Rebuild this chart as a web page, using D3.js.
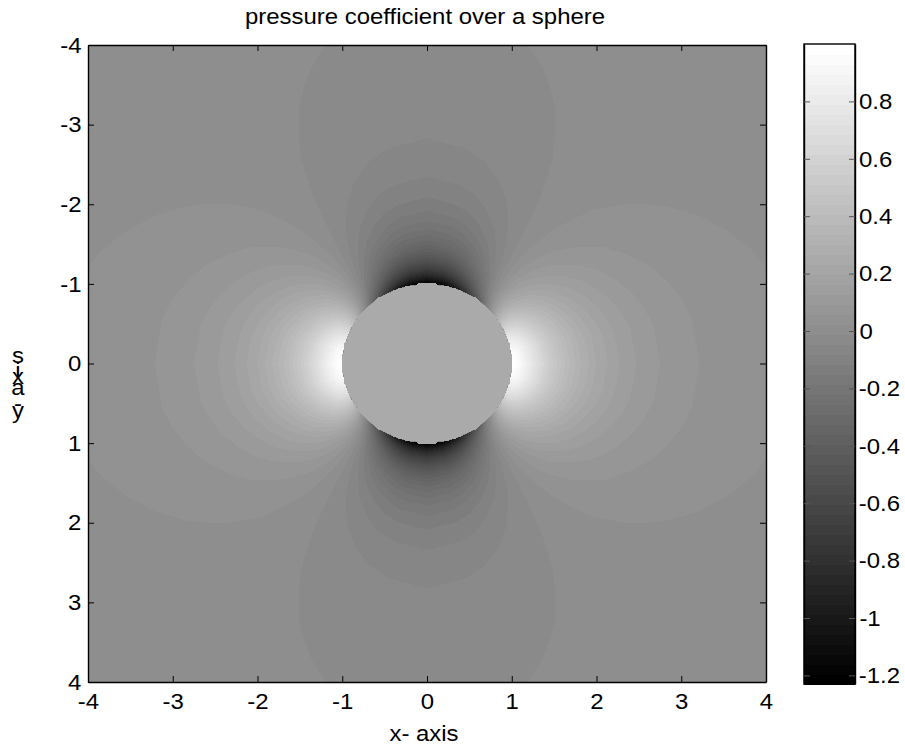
<!DOCTYPE html>
<html><head><meta charset="utf-8">
<script src="https://cdn.jsdelivr.net/npm/d3@7"></script>
<style>html,body{margin:0;background:#fff}svg{display:block}
text{font-family:"Liberation Sans",Arial,sans-serif;fill:#000;transform-box:fill-box;transform-origin:center;transform:scaleX(1.06)}</style>
</head><body><svg id="c" width="905" height="748"></svg>
<script>
const titleText = "pressure coefficient over a sphere";
const xLabelText = "x- axis";
const yLabelLetters = ["s","i","x","a","-","y"];
const axisTicks = [-4,-3,-2,-1,0,1,2,3,4];
const barTicks = [0.8,0.6,0.4,0.2,0,-0.2,-0.4,-0.6,-0.8,-1,-1.2];
const colorLimits = [-1.23,1];
const levelCount = 64;
const interiorValue = 0.25;
// polar sampling of one quadrant (the field is mirrored about both axes)
const radii = [1,1.05,1.1,1.15,1.2,1.3,1.4,1.5,1.65,1.8,2,2.25,2.5,2.75,3,3.25,3.5,3.75,4,4.5,5,6];
const anglesDeg = [0,10,15,20,25,30,35,40,45,50,55,60,65,70,75,80,90];
const cp0  = [1,.981,.938,.883,.822,.703,.596,.505,.396,.314,.234,.168,.124,.094,.073,.057,.046,.038,.031,.022,.016,.009];
const cp10 = [.932,.920,.883,.833,.778,.667,.566,.480,.377,.299,.223,.160,.118,.090,.069,.055,.044,.036,.030,.021,.0153,.0088];
const cp15 = [.849,.845,.815,.772,.723,.622,.530,.450,.353,.281,.210,.151,.111,.084,.065,.052,.041,.034,.028,.020,.014,.0083];
const cp20 = [.737,.744,.724,.690,.649,.562,.480,.409,.322,.256,.192,.138,.102,.077,.060,.047,.038,.031,.026,.018,.0132,.0076];
const cp25 = [.598,.619,.611,.588,.557,.487,.419,.358,.283,.226,.170,.122,.090,.068,.053,.042,.034,.0275,.023,.016,.012,.0067];
const cp30 = [.4375,.473,.480,.471,.451,.401,.348,.299,.238,.191,.144,.104,.077,.058,.045,.036,.029,.0235,.019,.0137,.010,.0058];
const cp35 = [.260,.313,.336,.340,.334,.305,.269,.234,.188,.152,.115,.083,.062,.047,.036,.029,.023,.019,.016,.011,.008,.0047];
const cp40 = [.070,.142,.182,.202,.209,.203,.186,.165,.135,.110,.084,.061,.046,.035,.027,.0215,.017,.014,.012,.0083,.0061,.0035];
const cp45 = [-.125,-.035,.023,.059,.080,.098,.099,.093,.080,.067,.053,.039,.029,.023,.018,.014,.011,.0093,.008,.0054,.004,.0023];
const cp50 = [-.320,-.211,-.136,-.085,-.049,-.007,.013,.022,.026,.025,.021,.017,.013,.010,.008,.0066,.005,.0044,.004,.0026,.0019,.0011];
const cp55 = [-.510,-.382,-.290,-.223,-.174,-.109,-.071,-.048,-.028,-.017,-.009,-.005,-.003,-.002,-.001,-.0008,-.0005,-.0004,-.0003,-.0002,-.0001,-.0001];
const cp60 = [-.6875,-.542,-.435,-.354,-.291,-.205,-.149,-.113,-.077,-.056,-.038,-.025,-.018,-.013,-.010,-.0077,-.006,-.005,-.004,-.0028,-.002,-.0012];
const cp65 = [-.848,-.688,-.566,-.471,-.397,-.291,-.220,-.171,-.122,-.091,-.064,-.044,-.031,-.023,-.018,-.0138,-.011,-.009,-.0074,-.0051,-.0037,-.0021];
const cp70 = [-.987,-.813,-.678,-.573,-.489,-.365,-.281,-.222,-.161,-.121,-.086,-.060,-.043,-.032,-.025,-.019,-.0153,-.0124,-.0102,-.0071,-.0052,-.003];
const cp75 = [-1.099,-.914,-.770,-.655,-.563,-.426,-.331,-.263,-.193,-.146,-.105,-.073,-.052,-.039,-.030,-.024,-.0188,-.0153,-.0126,-.0089,-.0064,-.0037];
const cp80 = [-1.182,-.989,-.837,-.716,-.618,-.470,-.368,-.293,-.216,-.164,-.118,-.082,-.059,-.044,-.034,-.027,-.0213,-.0174,-.0143,-.010,-.0073,-.0042];
const cp90 = [-1.25,-1.050,-.892,-.766,-.662,-.507,-.398,-.318,-.235,-.179,-.129,-.090,-.065,-.049,-.037,-.029,-.0234,-.019,-.0157,-.011,-.008,-.0046];
const cpRows = [cp0,cp10,cp15,cp20,cp25,cp30,cp35,cp40,cp45,cp50,cp55,cp60,cp65,cp70,cp75,cp80,cp90];

const P = {l:88,r:766,t:45,b:682};
const B = {l:804,r:855,t:44,b:684};
const FS = 22.6;
const svg = d3.select("#c");
const x = d3.scaleLinear().domain([-4,4]).range([P.l,P.r]);
const y = d3.scaleLinear().domain([-4,4]).range([P.t,P.b]);
const barY = d3.scaleLinear().domain(colorLimits).range([B.b,B.t]);
const step = (colorLimits[1]-colorLimits[0])/levelCount;
const grayOf = k => { const g = Math.round(255*k/(levelCount-1)); return d3.rgb(g,g,g).formatHex(); };
const levelOf = v => Math.max(0,Math.min(levelCount-1,Math.floor((v-colorLimits[0])/step)));
const levels = d3.range(levelCount);
const thresholds = levels.map(k => colorLimits[0]+k*step);

// field
svg.append("defs").append("clipPath").attr("id","pc").append("rect")
  .attr("x",P.l).attr("y",P.t).attr("width",P.r-P.l).attr("height",P.b-P.t);
const plot = svg.append("g").attr("clip-path","url(#pc)").attr("shape-rendering","crispEdges");
plot.append("rect").attr("x",P.l).attr("y",P.t).attr("width",P.r-P.l).attr("height",P.b-P.t).attr("fill",grayOf(levelOf(0)));
const rOf = d3.scaleLinear().domain(d3.range(radii.length)).range(radii).clamp(true);
const aOf = d3.scaleLinear().domain(d3.range(anglesDeg.length)).range(anglesDeg).clamp(true);
const contours = d3.contours().size([radii.length,anglesDeg.length]).thresholds(thresholds)(cpRows.flat());
const quadrants = [[1,1],[-1,1],[1,-1],[-1,-1]];
quadrants.forEach(([sx,sy])=>{
  const path = d3.geoPath(d3.geoTransform({point(px,py){
    const r = rOf(px-.5), t = aOf(py-.5)*Math.PI/180;
    this.stream.point(x(sx*r*Math.cos(t)), y(sy*r*Math.sin(t)));
  }}));
  plot.append("g").selectAll("path").data(contours).join("path")
    .attr("d",path).attr("fill-rule","evenodd")
    .attr("fill",(d,i)=>grayOf(i));
});
// the sphere itself: stair-stepped because the source image is a coarse raster
const cellsPerSide = 270;
const mask = d3.range(cellsPerSide*cellsPerSide).map(i=>{
  const u = -4+8*((i%cellsPerSide)+.5)/cellsPerSide, v = -4+8*(Math.floor(i/cellsPerSide)+.5)/cellsPerSide;
  return u*u+v*v<=1 ? 1 : 0;
});
const sphere = d3.contours().size([cellsPerSide,cellsPerSide]).smooth(false).thresholds([.5])(mask)[0];
plot.append("path").attr("fill",grayOf(levelOf(interiorValue)))
  .attr("d",d3.geoPath(d3.geoTransform({point(px,py){
    this.stream.point(x(-4+8*px/cellsPerSide), y(-4+8*py/cellsPerSide));
  }}))(sphere));

// axes
function styleAxis(g,labels){
  g.attr("font-size",FS).attr("font-family",'"Liberation Sans",Arial,sans-serif');
  g.selectAll("path.domain").attr("stroke","#000").attr("stroke-width",1.4);
  g.selectAll(".tick line").attr("stroke","#000");
  if(!labels) g.selectAll(".tick text").remove();
  g.selectAll(".tick text").attr("fill","#000");
}
const fmt = d => String(d);
svg.append("g").attr("transform",`translate(0,${P.b})`)
  .call(d3.axisBottom(x).tickValues(axisTicks).tickFormat(fmt).tickSizeInner(-6).tickSizeOuter(0).tickPadding(11)).call(styleAxis,true);
svg.append("g").attr("transform",`translate(0,${P.t})`)
  .call(d3.axisTop(x).tickValues(axisTicks).tickSizeInner(-6).tickSizeOuter(0)).call(styleAxis,false);
svg.append("g").attr("transform",`translate(${P.l},0)`)
  .call(d3.axisLeft(y).tickValues(axisTicks).tickFormat(fmt).tickSizeInner(-6).tickSizeOuter(0).tickPadding(7)).call(styleAxis,true);
svg.append("g").attr("transform",`translate(${P.r},0)`)
  .call(d3.axisRight(y).tickValues(axisTicks).tickSizeInner(-6).tickSizeOuter(0)).call(styleAxis,false);

// colour bar
svg.append("g").attr("shape-rendering","crispEdges").selectAll("rect").data(levels).join("rect")
  .attr("x",B.l).attr("width",B.r-B.l)
  .attr("y",k=>barY(thresholds[k]+step)).attr("height",k=>barY(thresholds[k])-barY(thresholds[k]+step)+.5)
  .attr("fill",k=>grayOf(k));
svg.append("rect").attr("x",B.l).attr("y",B.t).attr("width",B.r-B.l).attr("height",B.b-B.t)
  .attr("fill","none").attr("stroke","#000").attr("stroke-width",1.4);
svg.append("g").attr("transform",`translate(${B.r},0)`)
  .call(d3.axisRight(barY).tickValues(barTicks).tickFormat(fmt).tickSizeInner(-6).tickSizeOuter(0).tickPadding(5)).call(styleAxis,true)
  .selectAll(".tick line").attr("stroke","#555");
svg.append("g").attr("transform",`translate(${B.l},0)`)
  .call(d3.axisLeft(barY).tickValues(barTicks).tickSizeInner(-6).tickSizeOuter(0)).call(styleAxis,false)
  .selectAll(".tick line").attr("stroke","#555");

// titles
svg.append("text").attr("x",425).attr("y",24).attr("text-anchor","middle").attr("font-size",FS).text(titleText);
svg.append("text").attr("x",424).attr("y",741).attr("text-anchor","middle").attr("font-size",FS).text(xLabelText);
const letterY = [363,378,384,395,411,418];
svg.append("g").selectAll("text").data(yLabelLetters).join("text")
  .attr("x",18).attr("y",(d,i)=>letterY[i]).attr("text-anchor","middle").attr("font-size",FS).text(d=>d);
</script></body></html>
